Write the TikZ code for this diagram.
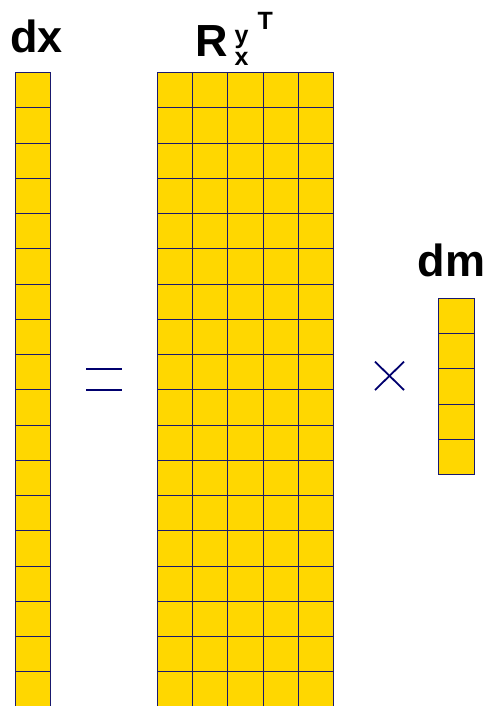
\documentclass[tikz,border=0pt]{standalone}
\usepackage{fontspec}
\setmainfont{Liberation Sans}
\definecolor{cellfill}{RGB}{255,215,0}
\definecolor{cellline}{RGB}{25,25,110}
\definecolor{opnavy}{RGB}{0,0,110}
\begin{document}
\begin{tikzpicture}[x=1pt,y=-1pt,
  cell/.style={fill=cellfill,draw=cellline,line width=1pt},
  oper/.style={draw=opnavy,line width=2pt},
  bigl/.style={inner sep=0pt,anchor=base west,font=\fontsize{45}{50}\bfseries\selectfont},
  smalll/.style={inner sep=0pt,anchor=base west,font=\fontsize{25}{28}\bfseries\selectfont}]
\useasboundingbox (0,0) rectangle (486,706);
\clip (0,0) rectangle (486,706);
\def\cs{35.25}
% dx column
\foreach \r in {0,...,17}{
  \draw[cell] (15.7,72.7+\r*\cs) rectangle (15.7+\cs,72.7+\r*\cs+\cs);
}
% matrix
\foreach \c in {0,...,4}{
  \foreach \r in {0,...,17}{
    \draw[cell] (157.3+\c*\cs,72.7+\r*\cs) rectangle (157.3+\c*\cs+\cs,72.7+\r*\cs+\cs);
  }
}
% dm column
\foreach \r in {0,...,4}{
  \draw[cell] (438.9,298.3+\r*\cs) rectangle (438.9+\cs,298.3+\r*\cs+\cs);
}
% labels
\node[bigl] (dx) at (10,52.5) {dx};
\node[bigl] (dm) at (417.5,276.5) {dm};
\node[inner sep=0pt,anchor=base west,font=\fontsize{45}{50}\bfseries\selectfont] (R) at (195,56.7) {R};
\node[smalll] (syx) at (234.5,65.5) {\rlap{\raisebox{22.2pt}{y}}x};
\node[smalll] (sT) at (257.5,29.3) {T};
% operators
\coordinate (e1a) at (86,369); \coordinate (e1b) at (121.7,369);
\coordinate (e2a) at (86,390.3); \coordinate (e2b) at (121.7,390.3);
\draw[oper] (e1a) -- (e1b);
\draw[oper] (e2a) -- (e2b);
\coordinate (t1) at (375,361.7); \coordinate (t2) at (404,390);
\coordinate (t3) at (375,390); \coordinate (t4) at (404,361.7);
\draw[oper,line width=1.8pt] (t1) -- (t2);
\draw[oper,line width=1.8pt] (t3) -- (t4);
\end{tikzpicture}
\end{document}
